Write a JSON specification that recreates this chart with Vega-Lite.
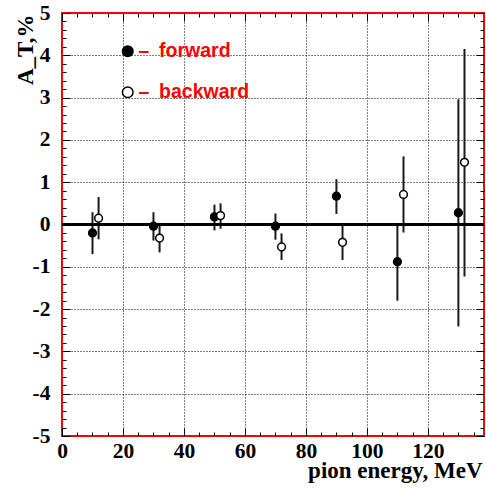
{
  "$schema": "https://vega.github.io/schema/vega-lite/v6.json",
  "width": 422,
  "height": 423,
  "autosize": {"type": "none"},
  "padding": {"left": 62, "top": 13, "right": 2, "bottom": 52},
  "background": "white",
  "config": {
    "view": {"stroke": "#ff0000", "strokeWidth": 2},
    "axis": {
      "domain": false,
      "tickColor": "black",
      "tickWidth": 1,
      "labelFont": "Liberation Serif",
      "labelFontWeight": "bold",
      "labelFontSize": 21.5,
      "labelColor": "black",
      "titleFont": "Liberation Serif",
      "titleFontWeight": "bold",
      "titleFontSize": 23,
      "titleColor": "black"
    }
  },
  "data": {
    "values": [
      {"E": 10, "A": -0.20, "lo": -0.70, "hi": 0.29, "dir": "forward"},
      {"E": 30, "A": -0.04, "lo": -0.38, "hi": 0.29, "dir": "forward"},
      {"E": 50, "A": 0.18, "lo": -0.14, "hi": 0.47, "dir": "forward"},
      {"E": 70, "A": -0.04, "lo": -0.36, "hi": 0.26, "dir": "forward"},
      {"E": 90, "A": 0.67, "lo": 0.25, "hi": 1.07, "dir": "forward"},
      {"E": 110, "A": -0.88, "lo": -1.80, "hi": 0.0, "dir": "forward"},
      {"E": 130, "A": 0.28, "lo": -2.41, "hi": 2.96, "dir": "forward"},
      {"E": 12, "A": 0.15, "lo": -0.35, "hi": 0.65, "dir": "backward"},
      {"E": 32, "A": -0.32, "lo": -0.66, "hi": 0.02, "dir": "backward"},
      {"E": 52, "A": 0.21, "lo": -0.10, "hi": 0.50, "dir": "backward"},
      {"E": 72, "A": -0.53, "lo": -0.84, "hi": -0.21, "dir": "backward"},
      {"E": 92, "A": -0.42, "lo": -0.84, "hi": 0.0, "dir": "backward"},
      {"E": 112, "A": 0.71, "lo": -0.19, "hi": 1.61, "dir": "backward"},
      {"E": 132, "A": 1.47, "lo": -1.23, "hi": 4.15, "dir": "backward"}
    ]
  },
  "layer": [
    {
      "mark": {"type": "rule", "color": "#1a1a1a", "strokeWidth": 2},
      "encoding": {
        "x": {
          "field": "E", "type": "quantitative",
          "scale": {"domain": [0, 138.4], "nice": false, "zero": false},
          "axis": {
            "orient": "top", "title": null, "labels": false, "grid": false,
            "values": [0,5,10,15,20,25,30,35,40,45,50,55,60,65,70,75,80,85,90,95,100,105,110,115,120,125,130,135],
            "tickSize": {"condition": {"test": "datum.value % 20 === 0", "value": -8}, "value": -4}
          }
        },
        "y": {
          "field": "lo", "type": "quantitative",
          "scale": {"domain": [-5, 5], "nice": false, "zero": false},
          "axis": {
            "orient": "right", "title": null, "labels": false, "grid": false,
            "values": [-5,-4.8,-4.6,-4.4,-4.2,-4,-3.8,-3.6,-3.4,-3.2,-3,-2.8,-2.6,-2.4,-2.2,-2,-1.8,-1.6,-1.4,-1.2,-1,-0.8,-0.6,-0.4,-0.2,0,0.2,0.4,0.6,0.8,1,1.2,1.4,1.6,1.8,2,2.2,2.4,2.6,2.8,3,3.2,3.4,3.6,3.8,4,4.2,4.4,4.6,4.8,5],
            "tickSize": {"condition": {"test": "abs(datum.value - round(datum.value)) < 0.01", "value": -8}, "value": -4}
          }
        },
        "y2": {"field": "hi"}
      }
    },
    {
      "mark": {"type": "rule", "color": "black", "strokeWidth": 2},
      "encoding": {
        "y": {"datum": 0, "type": "quantitative", "axis": null}
      }
    },
    {
      "mark": {"type": "circle", "opacity": 1, "stroke": "black", "strokeWidth": 1.5, "size": 60},
      "encoding": {
        "x": {
          "field": "E", "type": "quantitative",
          "axis": {
            "orient": "bottom",
            "title": "pion energy, MeV",
            "titleAnchor": "end", "titleAlign": "right", "titleBaseline": "alphabetic",
            "titleX": 420, "titleY": 41,
            "values": [0,5,10,15,20,25,30,35,40,45,50,55,60,65,70,75,80,85,90,95,100,105,110,115,120,125,130,135],
            "labelExpr": "datum.value % 20 === 0 ? '' + datum.value : ''",
            "labelPadding": 12,
            "labelFlush": false,
            "labelOverlap": false,
            "tickSize": {"condition": {"test": "datum.value % 20 === 0", "value": -8}, "value": -4},
            "grid": true,
            "gridColor": "black",
            "gridDash": [1, 2],
            "gridWidth": 1,
            "gridOpacity": {"condition": {"test": "datum.value % 20 === 0 && datum.value > 0", "value": 1}, "value": 0}
          }
        },
        "y": {
          "field": "A", "type": "quantitative",
          "axis": {
            "orient": "left",
            "title": "A_T,%",
            "titleAngle": -90, "titleAlign": "right", "titleBaseline": "alphabetic",
            "titleX": -30, "titleY": 1,
            "values": [-5,-4.8,-4.6,-4.4,-4.2,-4,-3.8,-3.6,-3.4,-3.2,-3,-2.8,-2.6,-2.4,-2.2,-2,-1.8,-1.6,-1.4,-1.2,-1,-0.8,-0.6,-0.4,-0.2,0,0.2,0.4,0.6,0.8,1,1.2,1.4,1.6,1.8,2,2.2,2.4,2.6,2.8,3,3.2,3.4,3.6,3.8,4,4.2,4.4,4.6,4.8,5],
            "labelExpr": "abs(datum.value - round(datum.value)) < 0.01 ? '' + round(datum.value) : ''",
            "labelPadding": 20,
            "labelFlush": false,
            "labelOverlap": false,
            "tickSize": {"condition": {"test": "abs(datum.value - round(datum.value)) < 0.01", "value": -8}, "value": -4},
            "grid": true,
            "gridColor": "black",
            "gridDash": [1, 2],
            "gridWidth": 1,
            "gridOpacity": {"condition": {"test": "abs(datum.value - round(datum.value)) < 0.01 && abs(datum.value) < 4.5", "value": 1}, "value": 0}
          }
        },
        "fill": {
          "field": "dir", "type": "nominal",
          "scale": {"domain": ["forward", "backward"], "range": ["black", "white"]},
          "legend": {
            "orient": "none", "legendX": 56, "legendY": 28.5, "title": null,
            "padding": 0,
            "symbolType": "circle", "symbolSize": 113,
            "symbolStrokeColor": "black", "symbolStrokeWidth": 1.5,
            "symbolOpacity": 1,
            "labelColor": "#ff0000", "labelFont": "Liberation Sans", "labelFontWeight": "bold", "labelFontSize": 19.5,
            "labelExpr": "'–\u2002' + datum.label",
            "labelOffset": 1,
            "rowPadding": 20
          }
        }
      }
    }
  ],
  "resolve": {"axis": {"x": "independent", "y": "independent"}}
}
